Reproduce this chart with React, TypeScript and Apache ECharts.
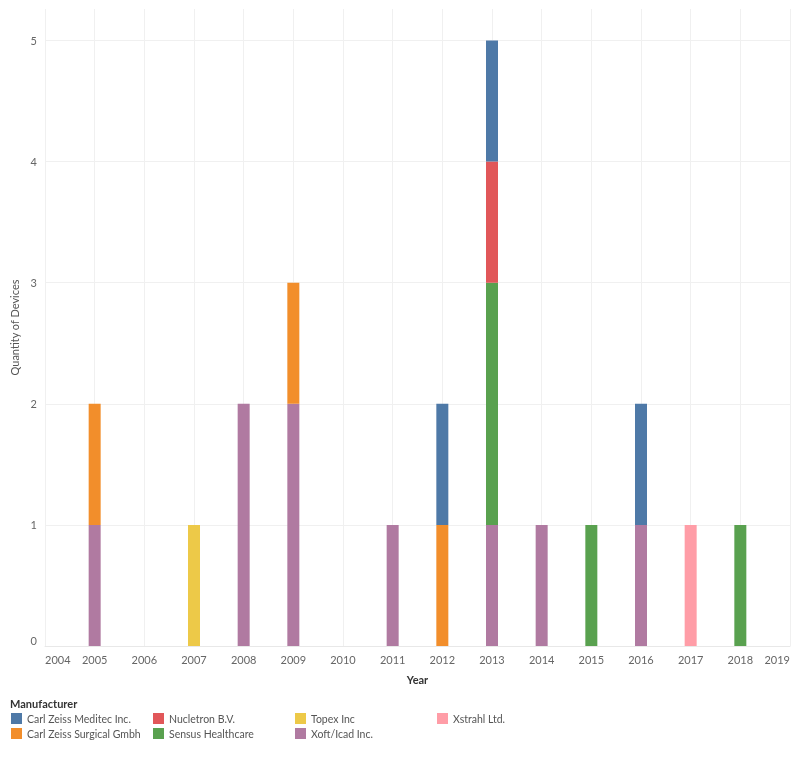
import React, { useEffect, useRef } from "react";
import * as echarts from "echarts";

const axisYears = ["2004", "2005", "2006", "2007", "2008", "2009", "2010", "2011", "2012", "2013", "2014", "2015", "2016", "2017", "2018", "2019"];
const years = ["2005", "2007", "2008", "2009", "2011", "2012", "2013", "2014", "2015", "2016", "2017", "2018"];
const xoft = [1, 0, 2, 2, 1, 0, 1, 1, 0, 1, 0, 0];
const surgical = [1, 0, 0, 1, 0, 1, 0, 0, 0, 0, 0, 0];
const topex = [0, 1, 0, 0, 0, 0, 0, 0, 0, 0, 0, 0];
const sensus = [0, 0, 0, 0, 0, 0, 2, 0, 1, 0, 0, 1];
const nucletron = [0, 0, 0, 0, 0, 0, 1, 0, 0, 0, 0, 0];
const meditec = [0, 0, 0, 0, 0, 1, 1, 0, 0, 1, 0, 0];
const xstrahl = [0, 0, 0, 0, 0, 0, 0, 0, 0, 0, 1, 0];

const seriesDefs = [
  { name: "Xoft/Icad Inc.", values: xoft, color: "#b07aa1" },
  { name: "Carl Zeiss Surgical Gmbh", values: surgical, color: "#f28e2b" },
  { name: "Topex Inc", values: topex, color: "#edc948" },
  { name: "Sensus Healthcare", values: sensus, color: "#59a14f" },
  { name: "Nucletron B.V.", values: nucletron, color: "#e15759" },
  { name: "Carl Zeiss Meditec Inc.", values: meditec, color: "#4e79a7" },
  { name: "Xstrahl Ltd.", values: xstrahl, color: "#ff9da7" },
];

const legendColumns = [
  ["Carl Zeiss Meditec Inc.", "Carl Zeiss Surgical Gmbh"],
  ["Nucletron B.V.", "Sensus Healthcare"],
  ["Topex Inc", "Xoft/Icad Inc."],
  ["Xstrahl Ltd."],
];

const FONT = "Lato";

export default function App() {
  const ref = useRef<HTMLDivElement>(null);
  useEffect(() => {
    if (!ref.current) return;
    const chart = echarts.init(ref.current, undefined, { renderer: "svg" });
    const legendLefts = [11, 153, 295, 437];
    chart.setOption({
      animation: false,
      textStyle: { fontFamily: FONT },
      title: {
        text: "Manufacturer",
        left: 10,
        top: 698,
        padding: 0,
        textStyle: { fontSize: 11, fontWeight: "bold", color: "#333", fontFamily: FONT },
      },
      legend: legendColumns.map((col, i) => ({
        data: col,
        orient: "vertical",
        left: legendLefts[i],
        top: 713,
        itemWidth: 11,
        itemHeight: 11,
        itemGap: 4,
        icon: "rect",
        selectedMode: false,
        padding: 0,
        textStyle: { fontSize: 10.5, color: "#555", fontFamily: FONT, lineHeight: 11 },
      })),
      grid: { left: 45, right: 10, top: 9, bottom: 113 },
      xAxis: {
        type: "category",
        data: axisYears,
        boundaryGap: false,
        name: "Year",
        nameLocation: "middle",
        nameGap: 28,
        nameTextStyle: { fontSize: 11, fontWeight: "bold", color: "#333" },
        axisLine: { show: true, lineStyle: { color: "#e8e8e8" } },
        axisTick: { show: false },
        axisLabel: {
          color: "#666",
          fontSize: 11,
          margin: 8,
          interval: 0,
          alignMinLabel: "left",
          alignMaxLabel: "right",
        },
        splitLine: { show: true, interval: 0, lineStyle: { color: "#f0f0f0" } },
      },
      yAxis: {
        type: "value",
        min: 0,
        max: 5.26,
        interval: 1,
        name: "Quantity of Devices",
        nameLocation: "middle",
        nameGap: 17,
        nameTextStyle: { fontSize: 11, color: "#555" },
        axisLine: { show: false },
        axisTick: { show: false },
        axisLabel: {
          color: "#666",
          fontSize: 11,
          margin: 8,
          showMaxLabel: false,
          verticalAlignMinLabel: "bottom",
          formatter: (v: number) => (Number.isInteger(v) ? String(v) : ""),
        },
        splitLine: { show: true, showMaxLine: false, lineStyle: { color: "#f0f0f0" } },
      },
      series: seriesDefs.map((s) => ({
        name: s.name,
        type: "bar",
        stack: "total",
        barWidth: 12,
        itemStyle: { color: s.color },
        data: axisYears.map((y) => {
          const i = years.indexOf(y);
          return i >= 0 && s.values[i] > 0 ? s.values[i] : null;
        }),
      })),
    });
    return () => chart.dispose();
  }, []);
  return (
    <div
      ref={ref}
      style={{ position: "fixed", left: 0, top: 0, width: 800, height: 759 }}
    />
  );
}
